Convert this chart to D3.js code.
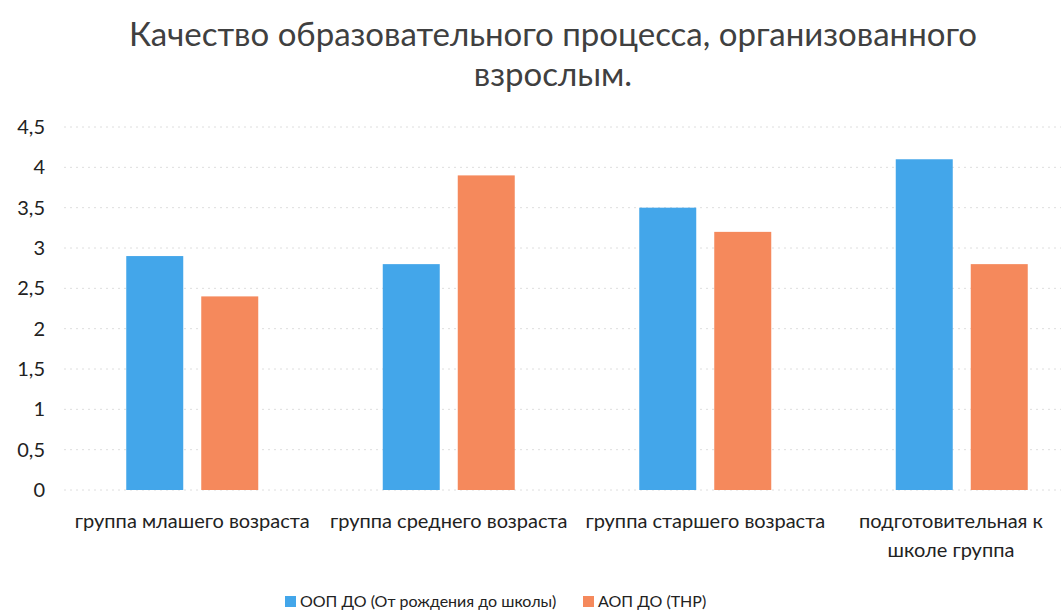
<!DOCTYPE html>
<html>
<head>
<meta charset="utf-8">
<script src="https://cdn.jsdelivr.net/npm/d3@7"></script>
<style>
body { margin: 0; background: #fff; }
svg { font-family: Lato, "Open Sans", sans-serif; }
</style>
</head>
<body>
<div class="viz"></div>
<script>
var categories = [["группа млашего возраста"], ["группа среднего возраста"], ["группа старшего возраста"], ["подготовительная к", "школе группа"]];
var seriesNames = ["ООП ДО (От рождения до школы)", "АОП ДО (ТНР)"];
var oop = [2.9, 2.8, 3.5, 4.1];
var aop = [2.4, 3.9, 3.2, 2.8];
var yTicks = [0, 0.5, 1, 1.5, 2, 2.5, 3, 3.5, 4, 4.5];
var colors = ["#43a6ea", "#f5895c"];

var w = 1061;
var h = 613;

var svg = d3.select(".viz")
    .append("svg")
    .attr("width", w)
    .attr("height", h);

var xScale = d3.scaleBand()
    .domain(d3.range(categories.length))
    .range([64, 1090]);

var inner = d3.scaleBand()
    .domain([0, 1])
    .range([xScale.bandwidth() / 2 - 66, xScale.bandwidth() / 2 + 66])
    .paddingInner(0.24);

var yScale = d3.scaleLinear()
    .domain([0, 4.5])
    .range([490, 127]);

// grid
svg.selectAll(".grid")
    .data(yTicks)
    .enter()
    .append("line")
    .attr("x1", 64)
    .attr("x2", w)
    .attr("y1", function(d) { return yScale(d); })
    .attr("y2", function(d) { return yScale(d); })
    .attr("stroke", "#dedede")
    .attr("stroke-width", 1)
    .attr("stroke-dasharray", "2,4");

// y labels
var yAxis = d3.axisLeft(yScale)
    .tickValues(yTicks)
    .tickSize(0)
    .tickPadding(0)
    .tickFormat(function(d) { return String(d).replace(".", ","); });

svg.append("g")
    .attr("transform", "translate(45,0)")
    .call(yAxis)
    .call(function(g) { g.select(".domain").remove(); })
    .selectAll("text")
    .attr("font-size", "20px")
    .attr("font-family", "Lato, sans-serif")
    .attr("fill", "#222");

// bars
var series = [oop, aop];
series.forEach(function(vals, s) {
    svg.selectAll(".bar" + s)
        .data(vals)
        .enter()
        .append("rect")
        .attr("x", function(d, i) { return xScale(i) + inner(s); })
        .attr("y", function(d) { return yScale(d); })
        .attr("width", inner.bandwidth())
        .attr("height", function(d) { return yScale(0) - yScale(d); })
        .attr("fill", colors[s]);
});

// category labels
categories.forEach(function(lines, i) {
    var cx = i == 3 ? 951 : xScale(i) + xScale.bandwidth() / 2;
    var t = svg.append("text")
        .attr("text-anchor", "middle")
        .attr("font-size", "20px")
        .attr("fill", "#222")
        .attr("x", cx)
        .attr("y", 528);
    lines.forEach(function(l, j) {
        t.append("tspan")
            .attr("x", cx)
            .attr("dy", j == 0 ? 0 : 29)
            .text(l);
    });
});

// title
svg.append("text")
    .attr("text-anchor", "middle")
    .attr("x", 553)
    .attr("y", 46)
    .attr("font-size", "33px")
    .attr("fill", "#404040")
    .text("Качество образовательного процесса, организованного");
svg.append("text")
    .attr("text-anchor", "middle")
    .attr("x", 553)
    .attr("y", 86)
    .attr("font-size", "33px")
    .attr("fill", "#404040")
    .text("взрослым.");

// legend
var legendX = [285, 583];
seriesNames.forEach(function(name, s) {
    svg.append("rect")
        .attr("x", legendX[s])
        .attr("y", 596)
        .attr("width", 11)
        .attr("height", 11)
        .attr("fill", colors[s]);
    svg.append("text")
        .attr("x", legendX[s] + 15)
        .attr("y", 607)
        .attr("font-size", "16px")
        .attr("fill", "#222")
        .text(name);
});
</script>
</body>
</html>
